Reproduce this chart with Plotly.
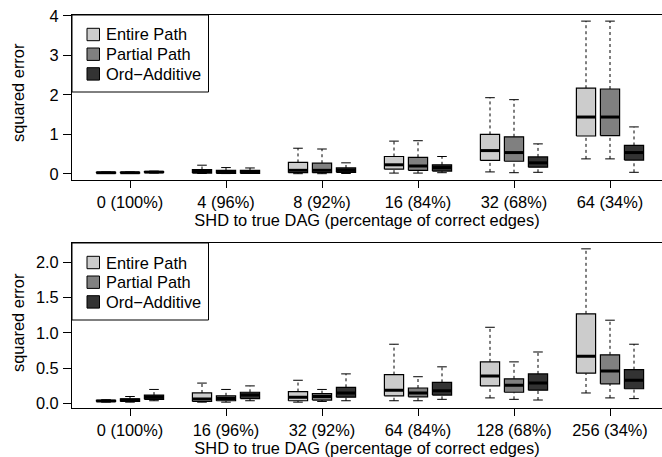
import plotly.graph_objects as go

# ---------------- data ----------------
top_groups = ["0 (100%)", "4 (96%)", "8 (92%)", "16 (84%)", "32 (68%)", "64 (34%)"]
bot_groups = ["0 (100%)", "16 (96%)", "32 (92%)", "64 (84%)", "128 (68%)", "256 (34%)"]
methods = ["Entire Path", "Partial Path", "Ord\u2212Additive"]
fill_colors = ["#CCCCCC", "#808080", "#333333"]

# top panel: five-number summaries per group
top_entire_min = [0.01, 0.01, 0.005, 0.02, 0.05, 0.38]
top_entire_q1 = [0.02, 0.02, 0.03, 0.12, 0.34, 0.96]
top_entire_med = [0.03, 0.06, 0.09, 0.23, 0.59, 1.44]
top_entire_q3 = [0.04, 0.11, 0.29, 0.44, 1.00, 2.17]
top_entire_max = [0.05, 0.22, 0.65, 0.83, 1.93, 3.87]

top_partial_min = [0.01, 0.008, 0.005, 0.02, 0.03, 0.38]
top_partial_q1 = [0.02, 0.015, 0.03, 0.09, 0.32, 0.97]
top_partial_med = [0.03, 0.05, 0.09, 0.20, 0.54, 1.44]
top_partial_q3 = [0.04, 0.09, 0.27, 0.42, 0.94, 2.15]
top_partial_max = [0.05, 0.16, 0.63, 0.84, 1.88, 3.87]

top_ord_min = [0.02, 0.01, 0.01, 0.03, 0.04, 0.04]
top_ord_q1 = [0.035, 0.015, 0.04, 0.07, 0.17, 0.35]
top_ord_med = [0.045, 0.05, 0.09, 0.16, 0.28, 0.54]
top_ord_q3 = [0.055, 0.09, 0.15, 0.23, 0.43, 0.72]
top_ord_max = [0.07, 0.15, 0.28, 0.44, 0.76, 1.19]

# bottom panel
bot_entire_min = [0.02, 0.02, 0.02, 0.04, 0.08, 0.15]
bot_entire_q1 = [0.03, 0.03, 0.04, 0.11, 0.25, 0.43]
bot_entire_med = [0.035, 0.065, 0.09, 0.19, 0.39, 0.67]
bot_entire_q3 = [0.045, 0.15, 0.17, 0.41, 0.59, 1.27]
bot_entire_max = [0.055, 0.29, 0.33, 0.84, 1.08, 2.19]

bot_partial_min = [0.02, 0.02, 0.03, 0.04, 0.06, 0.08]
bot_partial_q1 = [0.03, 0.04, 0.05, 0.095, 0.16, 0.28]
bot_partial_med = [0.05, 0.07, 0.10, 0.15, 0.26, 0.46]
bot_partial_q3 = [0.067, 0.11, 0.14, 0.22, 0.35, 0.69]
bot_partial_max = [0.10, 0.20, 0.20, 0.38, 0.59, 1.18]

bot_ord_min = [0.04, 0.04, 0.04, 0.06, 0.05, 0.07]
bot_ord_q1 = [0.06, 0.07, 0.09, 0.12, 0.19, 0.21]
bot_ord_med = [0.09, 0.12, 0.15, 0.18, 0.29, 0.33]
bot_ord_q3 = [0.12, 0.16, 0.23, 0.30, 0.42, 0.48]
bot_ord_max = [0.20, 0.25, 0.42, 0.52, 0.73, 0.84]

top_series = [
    (top_entire_min, top_entire_q1, top_entire_med, top_entire_q3, top_entire_max),
    (top_partial_min, top_partial_q1, top_partial_med, top_partial_q3, top_partial_max),
    (top_ord_min, top_ord_q1, top_ord_med, top_ord_q3, top_ord_max),
]
bot_series = [
    (bot_entire_min, bot_entire_q1, bot_entire_med, bot_entire_q3, bot_entire_max),
    (bot_partial_min, bot_partial_q1, bot_partial_med, bot_partial_q3, bot_partial_max),
    (bot_ord_min, bot_ord_q1, bot_ord_med, bot_ord_q3, bot_ord_max),
]

# ---------------- geometry / style ----------------
FONT = "Liberation Sans, Arial, Helvetica, sans-serif"
FS = 16.4
HALF = 0.4      # half box width (x units)
CAP = 0.2       # half staple width
GROUP_STEP = 4
W, H = 662, 457


def px_x(p):
    return p / W


def px_y(p):
    return 1 - p / H


def positions(k, n):
    return [GROUP_STEP * g + k + 1 for g in range(n)]


fig = go.Figure()
shapes = []
annotations = []
text_font = dict(family=FONT, size=FS, color="black")


def add_panel(series, xa, ya, legend_top, ytitle_center):
    for k, (mn, q1, md, q3, mx) in enumerate(series):
        xs = positions(k, len(md))
        # dashed whiskers
        wx, wy = [], []
        for x, a, b, c, d in zip(xs, mn, q1, q3, mx):
            wx += [x, x, None, x, x, None]
            wy += [a, b, None, c, d, None]
        fig.add_trace(go.Scatter(x=wx, y=wy, mode="lines", xaxis=xa, yaxis=ya,
                                 line=dict(color="black", width=1, dash="3px,3px"),
                                 showlegend=False, hoverinfo="skip"))
        # staples
        sx, sy = [], []
        for x, a, d in zip(xs, mn, mx):
            sx += [x - CAP, x + CAP, None, x - CAP, x + CAP, None]
            sy += [a, a, None, d, d, None]
        fig.add_trace(go.Scatter(x=sx, y=sy, mode="lines", xaxis=xa, yaxis=ya,
                                 line=dict(color="black", width=1),
                                 showlegend=False, hoverinfo="skip"))
        # boxes
        bx, by = [], []
        for x, b, c in zip(xs, q1, q3):
            bx += [x - HALF, x + HALF, x + HALF, x - HALF, x - HALF, None]
            by += [b, b, c, c, b, None]
        fig.add_trace(go.Scatter(x=bx, y=by, mode="lines", fill="toself",
                                 fillcolor=fill_colors[k], xaxis=xa, yaxis=ya,
                                 line=dict(color="black", width=1.2),
                                 showlegend=False, hoverinfo="skip"))
        # medians
        mxs, mys = [], []
        for x, m in zip(xs, md):
            mxs += [x - HALF, x + HALF, None]
            mys += [m, m, None]
        fig.add_trace(go.Scatter(x=mxs, y=mys, mode="lines", xaxis=xa, yaxis=ya,
                                 line=dict(color="black", width=3),
                                 showlegend=False, hoverinfo="skip"))
    # legend (R style box legend)
    shapes.append(dict(type="rect", xref="paper", yref="paper", layer="above",
                       x0=px_x(72), x1=px_x(208.5), y0=px_y(legend_top + 77),
                       y1=px_y(legend_top), fillcolor="white",
                       line=dict(color="black", width=1)))
    for k, name in enumerate(methods):
        cy = legend_top + 19.5 + 19.7 * k
        shapes.append(dict(type="rect", xref="paper", yref="paper", layer="above",
                           x0=px_x(87), x1=px_x(99.5), y0=px_y(cy + 6.2),
                           y1=px_y(cy - 6.2), fillcolor=fill_colors[k],
                           line=dict(color="black", width=1)))
        annotations.append(dict(text=name, xref="paper", yref="paper",
                                x=px_x(104), y=px_y(cy), xanchor="left",
                                yanchor="middle", showarrow=False, font=text_font))
    # y-axis title
    annotations.append(dict(text="squared error", xref="paper", yref="paper",
                            x=px_x(18), y=px_y(ytitle_center), textangle=-90,
                            xanchor="center", yanchor="middle", showarrow=False,
                            font=text_font))


add_panel(top_series, "x", "y", 15, 93)
add_panel(bot_series, "x2", "y2", 243, 323)

x_dom = [px_x(72), 1.0]
top_dom = [px_y(180), px_y(15)]
bot_dom = [px_y(408.3), px_y(242.7)]
x_range = [-0.4167, 24.1667]
centers = [GROUP_STEP * g + 2 for g in range(6)]

common_x = dict(range=x_range, domain=x_dom, showline=True, linecolor="black",
                linewidth=1, mirror=True, ticks="outside", ticklen=7,
                tickcolor="black", tickvals=centers, showgrid=False,
                zeroline=False, tickfont=text_font, automargin=False,
                ticklabelstandoff=0)
common_y = dict(showline=True, linecolor="black", linewidth=1,
                ticks="outside", ticklen=8, tickcolor="black", showgrid=False,
                zeroline=False, tickfont=text_font, automargin=False,
                ticklabelstandoff=1)

xt = "SHD to true DAG (percentage of correct edges)"

fig.update_layout(
    width=W, height=H,
    margin=dict(l=0, r=0, t=0, b=0, autoexpand=False),
    paper_bgcolor="white", plot_bgcolor="white",
    font=text_font,
    showlegend=False,
    xaxis=dict(common_x, anchor="y", ticktext=top_groups,
               title=dict(text=xt, font=text_font, standoff=1)),
    xaxis2=dict(common_x, anchor="y2", ticktext=bot_groups,
                title=dict(text=xt, font=text_font, standoff=1)),
    yaxis=dict(common_y, domain=top_dom, anchor="x", range=[-0.155, 4.025],
               tickvals=[0, 1, 2, 3, 4]),
    yaxis2=dict(common_y, domain=bot_dom, anchor="x2", range=[-0.067, 2.277],
                tickvals=[0, 0.5, 1.0, 1.5, 2.0], tickformat=".1f"),
    shapes=shapes,
    annotations=annotations,
)

fig.write_html(
    "out.html",
    config={"displayModeBar": False},
    post_script="document.body.style.margin='0';document.body.style.padding='0';"
                "document.body.style.overflow='hidden';",
)
